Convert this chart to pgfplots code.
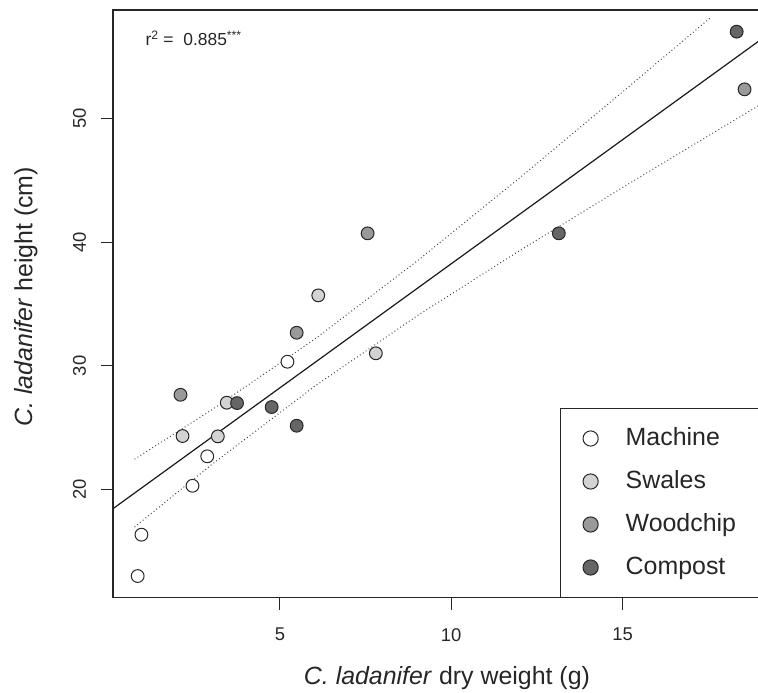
\documentclass[border=0pt]{standalone}
\usepackage{fontspec}
\setmainfont{Liberation Sans}
\usepackage{pgfplots}
\pgfplotsset{compat=1.18}
\definecolor{swales}{HTML}{D3D3D3}
\definecolor{woodchip}{HTML}{999999}
\definecolor{compost}{HTML}{666666}
\definecolor{edge}{HTML}{262626}
\begin{document}
\begin{tikzpicture}
\begin{axis}[
  scale only axis,
  width=660bp, height=587.7bp,
  xmin=0.13, xmax=19.39, ymin=11.28, ymax=58.75,
  xtick={5,10,15}, ytick={20,30,40,50},
  xtick pos=bottom, ytick pos=left,
  tick align=outside, major tick length=12bp,
  tick style={black!85, line width=0.9bp},
  axis line style={line width=1.1bp, black!85},
  /pgf/number format/assume math mode=true,
  tick label style={font=\fontsize{18.5}{20}\selectfont, text=black!85},
  xticklabel style={anchor=north, yshift=-15bp},
  yticklabel style={rotate=90, anchor=south, yshift=11.5bp},
  xlabel={\textit{C. ladanifer} dry weight (g)},
  ylabel={\textit{C. ladanifer} height (cm)},
  label style={font=\fontsize{25}{28}\selectfont, text=black!85},
  xlabel style={at={(axis description cs:0.506,-0.1366)}, anchor=center},
  ylabel style={at={(axis description cs:-0.132,0.512)}, anchor=center, rotate=0},
  legend cell align=left,
  legend style={at={(axis description cs:0.6773,0)}, anchor=south west,
    draw=black!85, line width=1bp, fill=white,
    inner xsep=22.5bp, inner ysep=18.2bp,
    row sep=20bp, column sep=27.5bp,
    nodes={inner sep=0pt, text height=18bp, text depth=5bp, font=\fontsize{25}{28}\selectfont, text=black!85}},
  legend image post style={mark size=7.6bp},
]
\coordinate (O) at (rel axis cs:0,0);
\addplot[only marks, mark=*, mark size=6.4bp, mark options={draw=edge, line width=1bp, fill=white}]
  coordinates {(0.85,13.03) (0.96,16.37) (2.45,20.32) (2.88,22.70) (5.22,30.34)};
\addlegendentry{Machine}
\addplot[only marks, mark=*, mark size=6.4bp, mark options={draw=edge, line width=1bp, fill=swales}]
  coordinates {(2.16,24.34) (3.19,24.31) (3.45,27.03) (6.12,35.70) (7.80,31.02)};
\addlegendentry{Swales}
\addplot[only marks, mark=*, mark size=6.4bp, mark options={draw=edge, line width=1bp, fill=woodchip}]
  coordinates {(2.10,27.67) (5.49,32.68) (7.56,40.71) (18.56,52.34)};
\addlegendentry{Woodchip}
\addplot[only marks, mark=*, mark size=6.4bp, mark options={draw=edge, line width=1bp, fill=compost}]
  coordinates {(3.75,27.00) (4.76,26.68) (5.49,25.17) (13.14,40.71) (18.33,57.00)};
\addlegendentry{Compost}
\addplot[black!90, line width=1.2bp, forget plot] coordinates {(0.13,18.47) (19.39,57.07)};
\addplot[black!75, line width=1bp, dash pattern=on 0.9bp off 2.6bp, forget plot]
  coordinates {(0.76,22.47) (3,26.43) (6,32.13) (9,38.46) (12,45.20) (15,52.13) (17.59,58.19)};
\addplot[black!75, line width=1bp, dash pattern=on 0.9bp off 2.6bp, forget plot]
  coordinates {(0.76,16.99) (3,22.01) (6,28.33) (9,34.04) (12,39.32) (15,44.41) (17.59,48.73) (19.39,51.72)};
\node[anchor=west, font=\fontsize{17.5}{20}\selectfont, text=black!85] at (axis description cs:0.044,0.952)
  {r\textsuperscript{2} =\ \ 0.885\textsuperscript{***}};
\end{axis}
\pgfresetboundingbox
\path[use as bounding box] ([xshift=-113bp,yshift=-95.3bp]O) rectangle ([xshift=645bp,yshift=597.7bp]O);
\end{tikzpicture}
\end{document}
